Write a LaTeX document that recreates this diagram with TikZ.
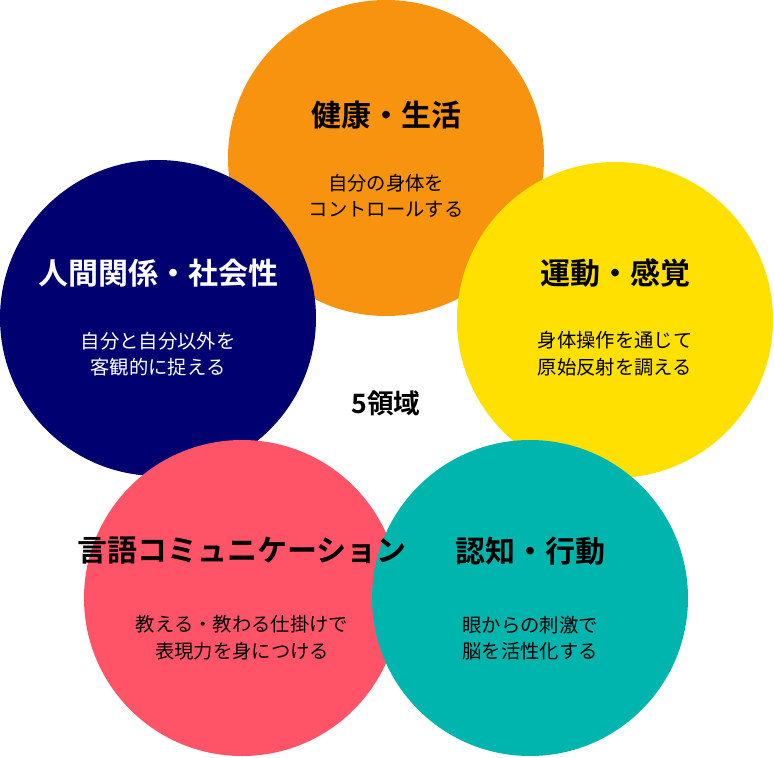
\documentclass[tikz,border=0pt]{standalone}
\usepackage{fontspec}
\setmainfont{Noto Sans CJK JP}
\newfontfamily\jpb[FakeBold=0]{Noto Sans CJK JP Bold}
\definecolor{cor}{HTML}{F7930F}
\definecolor{cye}{HTML}{FFE000}
\definecolor{cte}{HTML}{00B5AE}
\definecolor{cpi}{HTML}{FF5468}
\definecolor{cna}{HTML}{000070}
\begin{document}
\begin{tikzpicture}[x=0.75pt,y=-0.75pt,
  circ/.style={circle,minimum size=316*0.75pt,inner sep=0pt},
  ttl/.style={font=\jpb\fontsize{22.5}{26}\selectfont},
  body/.style={align=center,font=\fontsize{14.5}{20}\selectfont}]
\useasboundingbox (0,0) rectangle (774,757);
\node[circ,fill=cor] (o) at (386,158) {};
\node[circ,fill=cye] (y) at (615,320) {};
\node[circ,fill=cna] (n) at (158,318) {};
\node[circ,fill=cpi] (p) at (242,598) {};
\node[circ,fill=cte] (t) at (530,598) {};
\node[ttl] (ot) at (386,115) {健康・生活};
\node[body] (ob) at (386,196) {自分の身体を\\コントロールする};
\node[ttl] (yt) at (615,273) {運動・感覚};
\node[body] (yb) at (615,354) {身体操作を通じて\\原始反射を調える};
\node[ttl,white] (nt) at (158,273) {人間関係・社会性};
\node[body,white] (nb) at (158,354) {自分と自分以外を\\客観的に捉える};
\node[ttl] (pt) at (242,551) {言語コミュニケーション};
\node[body] (pb) at (242,638) {教える・教わる仕掛けで\\表現力を身につける};
\node[ttl] (tt) at (530,551) {認知・行動};
\node[body] (tb) at (530,638) {眼からの刺激で\\脳を活性化する};
\node[font=\jpb\fontsize{20}{24}\selectfont] (c) at (386,403) {5領域};
\end{tikzpicture}
\end{document}
